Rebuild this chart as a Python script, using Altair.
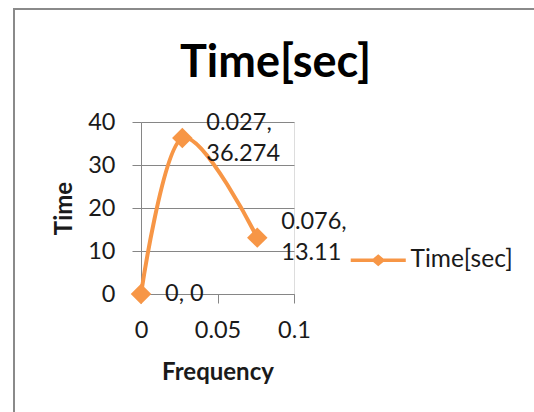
import altair as alt
import pandas as pd

# ---- data ----
frequency = [0.0, 0.027, 0.076]
time_sec = [0.0, 36.274, 13.11]
label_lines = [["0, 0"], ["0.027,", "36.274"], ["0.076,", "13.11"]]
series_name = "Time[sec]"
x_ticks = [0, 0.05, 0.1]
y_ticks = [0, 10, 20, 30, 40]

df = pd.DataFrame({
    "Frequency": frequency,
    "Time": time_sec,
    "label": label_lines,
    "series": [series_name] * len(frequency),
})

ORANGE = "#F79646"
GRID = "#868686"
TXT = "#1a1a1a"
FONT = "Lato"
FS = 23.5

x_enc = alt.X(
    "Frequency:Q",
    scale=alt.Scale(domain=[0, 0.1], nice=False, zero=False),
    axis=alt.Axis(
        values=x_ticks, format="~g", grid=False, title="Frequency",
        tickSize=9, tickColor=GRID, domainColor=GRID, domainWidth=1,
        labelFlush=False, labelOverlap=False,
        labelPadding=15, labelFontSize=FS, labelFont=FONT, labelColor=TXT,
        titleFont=FONT, titleFontSize=24, titleFontWeight="bold", titleColor=TXT,
        titlePadding=19,
    ),
)
y_enc = alt.Y(
    "Time:Q",
    scale=alt.Scale(domain=[0, 40], nice=False),
    axis=alt.Axis(
        values=y_ticks, grid=True, gridColor=GRID, gridWidth=1, title="Time",
        tickSize=9, tickColor=GRID, domainColor=GRID, domainWidth=1,
        labelFlush=False, labelOverlap=False,
        labelPadding=17, labelFontSize=FS, labelFont=FONT, labelColor=TXT,
        titleFont=FONT, titleFontSize=24, titleFontWeight="bold", titleColor=TXT,
        titlePadding=11,
    ),
)

base = alt.Chart(df)

border = alt.Chart(alt.Data(values=[{"a": 1}])).mark_rect(
    fill=None, stroke="#8a8a8a", strokeWidth=2
).encode(
    x=alt.value(-127), x2=alt.value(700), y=alt.value(-113), y2=alt.value(700)
)

line = base.mark_line(
    color=ORANGE, strokeWidth=4, interpolate="cardinal"
).encode(x=x_enc, y=y_enc)

legend_path = (
    "M-3.67,-0.22L3.67,-0.22L3.67,0.22L-3.67,0.22Z"
    "M-0.95,0L0,-0.8L0.95,0L0,0.8Z"
)

points = base.mark_point(
    shape="diamond", size=420, filled=True, opacity=1
).encode(
    x=x_enc, y=y_enc,
    color=alt.Color(
        "series:N",
        scale=alt.Scale(range=[ORANGE]),
        legend=alt.Legend(
            title=None, orient="none", legendX=225, legendY=126, padding=0,
            symbolType=legend_path, symbolSize=225, symbolFillColor=ORANGE,
            symbolStrokeWidth=0, symbolOpacity=1,
            labelFont=FONT, labelFontSize=24.5, labelColor=TXT, labelOffset=20,
        ),
    ),
)

LH = 31
labels_one = base.transform_filter("length(datum.label) == 1").mark_text(
    align="left", baseline="middle", dx=24, font=FONT, fontSize=FS,
    lineHeight=LH, color=TXT,
).encode(x=x_enc, y=y_enc, text="label")

labels_two = base.transform_filter("length(datum.label) == 2").mark_text(
    align="left", baseline="middle", dx=24, dy=-LH / 2, font=FONT, fontSize=FS,
    lineHeight=LH, color=TXT,
).encode(x=x_enc, y=y_enc, text="label")

chart = alt.layer(border, line, points, labels_one, labels_two).properties(
    width=153, height=172,
    padding={"left": 141, "top": 122, "right": 240, "bottom": 118},
    autosize=alt.AutoSizeParams(type="none"),
    title=alt.TitleParams(
        text="Time[sec]", font=FONT, fontSize=45, fontWeight="bold",
        color="#000000", anchor="middle", dx=58, dy=150, baseline="alphabetic",
        offset=36,
    ),
).configure_view(stroke=None).configure(background="white")

chart.save("out.html", embed_options={"renderer": "svg", "actions": False})
